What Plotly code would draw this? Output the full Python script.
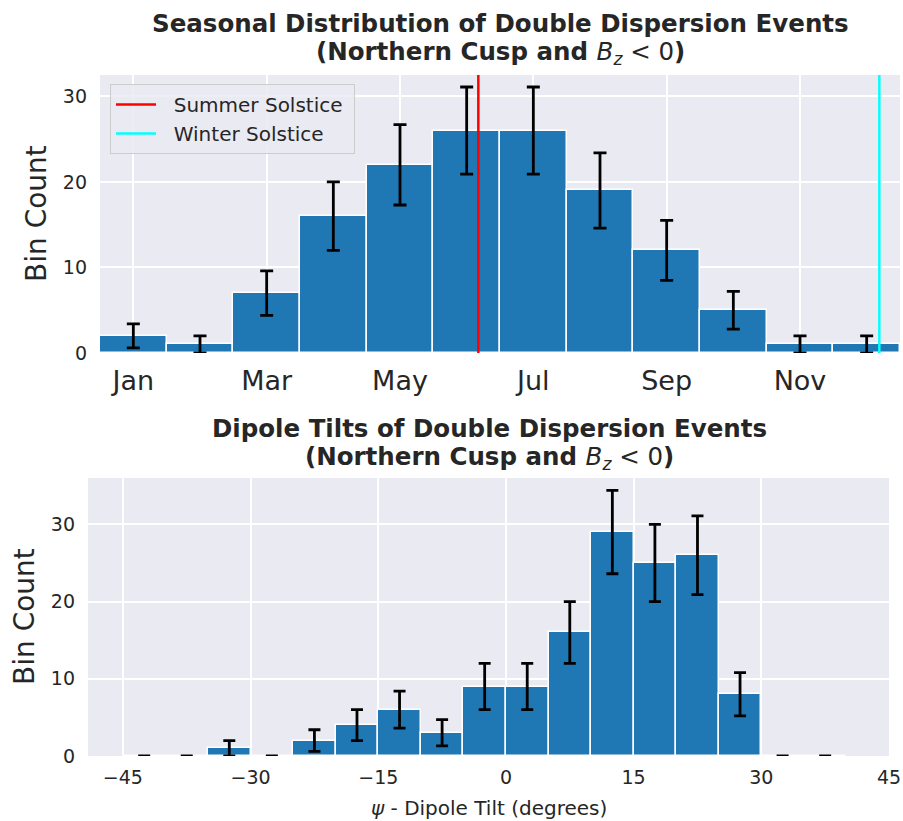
import plotly.graph_objects as go

# ---- data: seasonal (monthly bins) ----
months = ["Jan", "Feb", "Mar", "Apr", "May", "Jun", "Jul", "Aug", "Sep", "Oct", "Nov", "Dec"]
month_counts = [2, 1, 7, 16, 22, 26, 26, 19, 12, 5, 1, 1]
month_errors = [1.4, 1.0, 2.6, 4.0, 4.7, 5.1, 5.1, 4.4, 3.5, 2.2, 1.0, 1.0]
month_tick_labels = ["Jan", "Mar", "May", "Jul", "Sep", "Nov"]
summer_solstice = 5.675   # position in month units (Jun 21)
winter_solstice = 11.69   # position in month units (Dec 21)

# ---- data: dipole tilt (5 degree bins) ----
tilt_centers = [-42.5, -37.5, -32.5, -27.5, -22.5, -17.5, -12.5, -7.5, -2.5,
                2.5, 7.5, 12.5, 17.5, 22.5, 27.5, 32.5, 37.5]
tilt_counts = [0, 0, 1, 0, 2, 4, 6, 3, 9, 9, 16, 29, 25, 26, 8, 0, 0]
tilt_errors = [0, 0, 1.0, 0, 1.4, 2.0, 2.4, 1.7, 3.0, 3.0, 4.0, 5.4, 5.0, 5.1, 2.8, 0, 0]
tilt_ticks = [-45, -30, -15, 0, 15, 30, 45]

W, H = 903, 821
BAR = "#1f77b4"
BG = "#EAEAF2"
TXT = "#262626"
FONT = "DejaVu Sans"

month_pos = [i + 0.5 for i in range(len(months))]
month_tick_pos = [month_pos[months.index(m)] for m in month_tick_labels]

fig = go.Figure()

fig.add_trace(go.Bar(
    x=month_pos, y=month_counts, width=1.0,
    marker=dict(color=BAR, line=dict(color="white", width=1.5)),
    error_y=dict(type="data", array=month_errors, color="black", thickness=2.8, width=6.5),
    showlegend=False, xaxis="x", yaxis="y",
))
ytop = 32.5
fig.add_trace(go.Scatter(
    x=[summer_solstice, summer_solstice], y=[0, ytop], mode="lines",
    line=dict(color="#FF0000", width=2.5), name="\u00a0\u00a0Summer Solstice\u00a0",
    xaxis="x", yaxis="y",
))
fig.add_trace(go.Scatter(
    x=[winter_solstice, winter_solstice], y=[0, ytop], mode="lines",
    line=dict(color="#00FFFF", width=2.5), name="\u00a0\u00a0Winter Solstice",
    xaxis="x", yaxis="y",
))

fig.add_trace(go.Bar(
    x=tilt_centers, y=tilt_counts, width=5.0,
    marker=dict(color=BAR, line=dict(color="white", width=1.5)),
    error_y=dict(type="data", array=tilt_errors, color="black", thickness=2.8, width=6),
    showlegend=False, xaxis="x2", yaxis="y2",
))

def px_x(p):
    return p / W

def px_y(p):
    return 1 - p / H

axis_common = dict(showgrid=True, gridcolor="white", gridwidth=1.6, zeroline=False,
                   showline=False, ticks="", color=TXT, automargin=False)

fig.update_layout(
    width=W, height=H,
    margin=dict(l=0, r=0, t=0, b=0, autoexpand=False),
    paper_bgcolor="white", plot_bgcolor=BG,
    font=dict(family=FONT, color=TXT),
    bargap=0,
    xaxis=dict(domain=[px_x(100), px_x(900)], range=[0, 12], anchor="y",
               tickvals=month_tick_pos, ticktext=month_tick_labels,
               tickfont=dict(size=27, family=FONT, color=TXT), ticklabelstandoff=9,
               **axis_common),
    yaxis=dict(domain=[px_y(353), px_y(75)], range=[0, ytop], anchor="x",
               tickvals=[0, 10, 20, 30], tickfont=dict(size=19, family=FONT, color=TXT),
               ticklabelstandoff=12, **axis_common),
    xaxis2=dict(domain=[px_x(88), px_x(889)], range=[-49.1, 45], anchor="y2",
                tickvals=tilt_ticks, tickfont=dict(size=19, family=FONT, color=TXT),
                ticklabelstandoff=8, **axis_common),
    yaxis2=dict(domain=[px_y(756), px_y(478)], range=[0, 36.0], anchor="x2",
                tickvals=[0, 10, 20, 30], tickfont=dict(size=19, family=FONT, color=TXT),
                ticklabelstandoff=12, **axis_common),
    legend=dict(x=px_x(110), y=px_y(84), xanchor="left", yanchor="top",
                bgcolor="rgba(234,234,242,0.85)", bordercolor="#CCCCCC", borderwidth=1,
                font=dict(size=20, family=FONT, color=TXT), itemwidth=40,
                tracegroupgap=0),
)

title_font = dict(size=24.5, family=FONT, color=TXT)
subtitle = "<b>(Northern Cusp and </b><i>B</i><sub><i>z</i></sub> &lt; 0<b>)</b>"
ann = [
    dict(text="<b>Seasonal Distribution of Double Dispersion Events</b>",
         x=px_x(500), y=px_y(23), xref="paper", yref="paper", showarrow=False,
         xanchor="center", yanchor="middle", font=title_font),
    dict(text=subtitle,
         x=px_x(500), y=px_y(53), xref="paper", yref="paper", showarrow=False,
         xanchor="center", yanchor="middle", font=title_font),
    dict(text="<b>Dipole Tilts of Double Dispersion Events</b>",
         x=px_x(489), y=px_y(428), xref="paper", yref="paper", showarrow=False,
         xanchor="center", yanchor="middle", font=title_font),
    dict(text=subtitle,
         x=px_x(489), y=px_y(458), xref="paper", yref="paper", showarrow=False,
         xanchor="center", yanchor="middle", font=title_font),
    dict(text="Bin Count", textangle=-90,
         x=px_x(36), y=px_y(214), xref="paper", yref="paper", showarrow=False,
         xanchor="center", yanchor="middle", font=dict(size=28, family=FONT, color=TXT)),
    dict(text="Bin Count", textangle=-90,
         x=px_x(24), y=px_y(617), xref="paper", yref="paper", showarrow=False,
         xanchor="center", yanchor="middle", font=dict(size=28, family=FONT, color=TXT)),
    dict(text="<i>ψ</i> - Dipole Tilt (degrees)",
         x=px_x(489), y=px_y(808), xref="paper", yref="paper", showarrow=False,
         xanchor="center", yanchor="middle", font=dict(size=20, family=FONT, color=TXT)),
]
fig.update_layout(annotations=ann)

fig.write_html("out.html")
